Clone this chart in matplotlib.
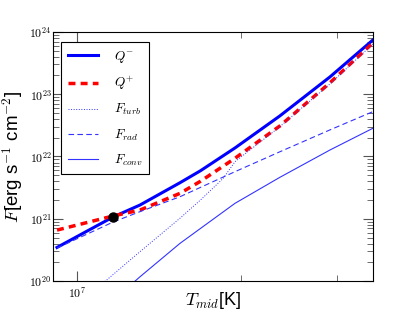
import math
import matplotlib
matplotlib.use("Agg")
import matplotlib.pyplot as plt
from matplotlib.ticker import LogLocator, FuncFormatter, NullFormatter

plt.rcParams['mathtext.fontset'] = 'cm'
plt.rcParams['font.family'] = ['Liberation Sans', 'DejaVu Sans']

# values (temperature in K, flux in erg s^-1 cm^-2)
t_qminus = [9.20e6, 1.166e7, 1.306e7, 1.547e7, 1.687e7, 1.952e7, 2.360e7, 2.916e7, 3.498e7]
q_minus = [3.47e20, 1.07e21, 1.66e21, 3.79e21, 5.9e21, 1.37e22, 4.48e22, 1.89e23, 7.43e23]

t_qplus = [9.20e6, 1.166e7, 1.306e7, 1.547e7, 1.687e7, 1.952e7, 2.360e7, 2.916e7, 3.498e7]
q_plus = [6.59e20, 1.11e21, 1.38e21, 2.56e21, 4.0e21, 9.35e21, 3.09e22, 1.52e23, 6.65e23]

t_turb = [1.080e7, 1.306e7, 1.547e7, 1.687e7, 1.858e7, 1.952e7, 2.360e7, 2.916e7, 3.498e7]
f_turb = [7.2e19, 2.96e20, 1.02e21, 2.0e21, 4.47e21, 8.24e21, 3.01e22, 1.46e23, 6.41e23]

t_rad = [9.20e6, 1.166e7, 1.306e7, 1.547e7, 1.952e7, 2.360e7, 2.916e7, 3.498e7]
f_rad = [3.39e20, 8.87e20, 1.30e21, 2.26e21, 5.70e21, 1.19e22, 2.67e22, 5.25e22]

t_conv = [1.226e7, 1.306e7, 1.547e7, 1.952e7, 2.360e7, 2.916e7, 3.498e7]
f_conv = [7.2e19, 1.17e20, 4.03e20, 1.77e21, 4.63e21, 1.27e22, 2.84e22]

t_point = [1.166e7]
f_point = [1.07e21]


def sci_label(v, pos):
    return r'$10^{%d}$' % int(round(math.log10(v)))


def main():
    fig = plt.figure(figsize=(4.15, 3.22), dpi=100)
    ax = fig.add_axes([0.128, 0.127, 0.771, 0.774])

    ax.plot(t_qminus, q_minus, color='b', lw=2.2, label=r'$Q^{-}$')
    ax.plot(t_qplus, q_plus, color='r', lw=2.5, ls=(0, (2.0, 1.5)), label=r'$Q^{+}$')
    ax.plot(t_turb, f_turb, color='#3333ff', lw=0.7, ls=':', label=r'$F_{turb}$')
    ax.plot(t_rad, f_rad, color='#3333ff', lw=0.8, dashes=(5, 3), label=r'$F_{rad}$')
    ax.plot(t_conv, f_conv, color='#3333ff', lw=0.8, ls='-', label=r'$F_{conv}$')
    ax.plot(t_point, f_point, 'o', color='k', ms=6.5, zorder=5)

    ax.set_xscale('log')
    ax.set_yscale('log')
    ax.set_xlim(9.05e6, 3.5e7)
    ax.set_ylim(1e20, 1e24)

    ax.xaxis.set_major_locator(LogLocator(base=10))
    ax.yaxis.set_major_locator(LogLocator(base=10))
    ax.xaxis.set_major_formatter(FuncFormatter(sci_label))
    ax.yaxis.set_major_formatter(FuncFormatter(sci_label))
    ax.xaxis.set_minor_formatter(NullFormatter())
    ax.yaxis.set_minor_formatter(NullFormatter())

    ax.tick_params(which='both', direction='in', top=True, right=True,
                   color='#555555', labelsize=8.5)
    ax.tick_params(which='major', length=7, width=0.8)
    ax.tick_params(which='minor', length=4, width=0.6)
    ax.tick_params(axis='y', which='major', pad=1)
    ax.tick_params(axis='x', which='major', pad=3)

    ax.set_xlabel(r'$T_{mid}$[K]', fontsize=13)
    ax.set_ylabel(r'$F$[erg s$^{-1}$ cm$^{-2}$]', fontsize=13.5)
    ax.xaxis.set_label_coords(0.5, -0.035)
    ax.yaxis.set_label_coords(-0.088, 0.5)

    leg = ax.legend(loc='upper left', fontsize=9.5, fancybox=False, framealpha=1,
                    edgecolor='k', handlelength=2.3, borderpad=0.5,
                    labelspacing=0.75, handletextpad=1.2,
                    bbox_to_anchor=(0.005, 0.985))
    leg.get_frame().set_linewidth(0.8)

    fig.savefig('out.png', dpi=100)


if __name__ == '__main__':
    main()
